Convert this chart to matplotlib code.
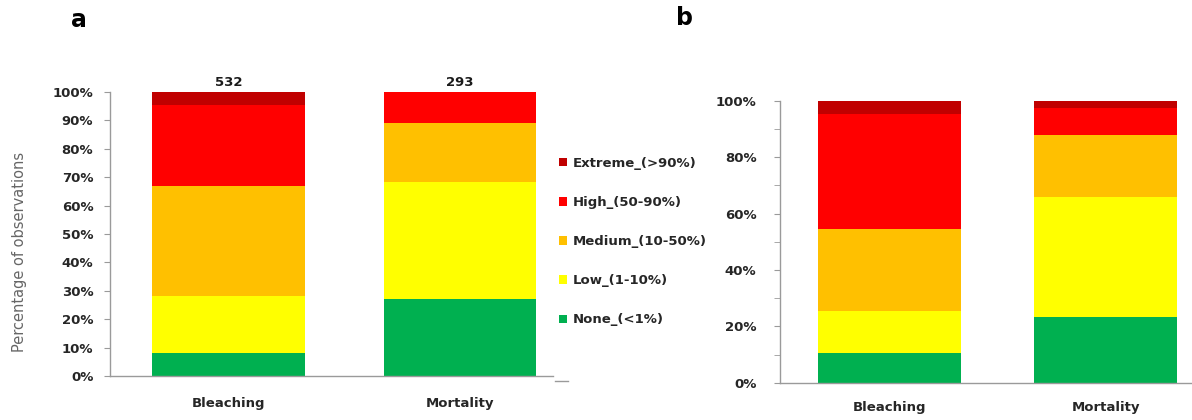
import matplotlib
matplotlib.use("Agg")
import matplotlib.pyplot as plt
from matplotlib.lines import Line2D
import numpy as np

categories = ["Bleaching", "Mortality"]
severity = ["None_(<1%)", "Low_(1-10%)", "Medium_(10-50%)", "High_(50-90%)", "Extreme_(>90%)"]
colors = ["#00B050", "#FFFF00", "#FFC000", "#FF0000", "#C00000"]

# panel a (percent of observations)
a_none = [8.2, 27.0]
a_low = [20.1, 41.4]
a_medium = [38.6, 20.8]
a_high = [28.5, 10.8]
a_extreme = [4.6, 0.0]
a_counts = [532, 293]

# panel b (percent)
b_none = [10.6, 23.2]
b_low = [14.9, 42.5]
b_medium = [29.0, 22.1]
b_high = [40.8, 9.5]
b_extreme = [4.7, 2.7]

plt.rcParams['font.family'] = ['DejaVu Sans']
fig = plt.figure(figsize=(11.92, 4.2), dpi=100)

axA = fig.add_axes([110/1192, 1-376/420, 443/1192, 284/420])
axB = fig.add_axes([780/1192, 1-382.7/420, 412/1192, 282/420])

tick_col = "#262626"
spine_col = "#9a9a9a"

def draw(ax, series, ticks_major, xlim, xpad, ypad):
    x = np.arange(len(categories))
    bottom = np.zeros(len(categories))
    handles = []
    for vals, col, lab in zip(series, colors, severity):
        h = ax.bar(x, vals, width=0.66, bottom=bottom, color=col, label=lab, linewidth=0)
        handles.append(h)
        bottom = bottom + np.array(vals)
    ax.set_ylim(0, 100)
    ax.set_xlim(*xlim)
    ax.set_xticks(x)
    ax.set_xticklabels(categories, fontsize=9.5, fontweight='bold', color=tick_col)
    ax.set_yticks(ticks_major)
    ax.set_yticklabels([f"{int(t)}%" for t in ticks_major], fontsize=9.5, fontweight='bold', color=tick_col)
    ax.set_yticks(np.arange(0, 101, 10), minor=True)
    ax.tick_params(axis='x', length=0, pad=xpad)
    ax.tick_params(axis='y', which='both', length=4, color=spine_col, direction='out', pad=ypad)
    for s in ['top', 'right']:
        ax.spines[s].set_visible(False)
    for s in ['left', 'bottom']:
        ax.spines[s].set_color(spine_col)
        ax.spines[s].set_linewidth(1.0)
    return handles

hA = draw(axA, [a_none, a_low, a_medium, a_high, a_extreme], np.arange(0, 101, 10), (-0.512, 1.402), 15, 8)
for i, c in enumerate(a_counts):
    axA.text(i, 101, str(c), ha='center', va='bottom', fontsize=9.5, fontweight='bold', color='#1a1a1a')

draw(axB, [b_none, b_low, b_medium, b_high, b_extreme], np.arange(0, 101, 20), (-0.507, 1.40), 13, 13)

fig.text(20/1192, 1-252/420, "Percentage of observations", rotation=90, ha='center', va='center',
         fontsize=10.5, color='#666666')

leg = fig.legend(handles=hA[::-1], labels=severity[::-1], loc='upper left',
                 bbox_to_anchor=(547/1192, 1-145/420), frameon=False,
                 handlelength=0.6, handleheight=0.6, handletextpad=0.45,
                 labelspacing=1.98, prop={'size': 9.5, 'weight': 'bold'})
for t in leg.get_texts():
    t.set_color('#262626')

# small stray axis dash to the right of panel a's baseline
fig.add_artist(Line2D([555/1192, 568/1192], [1-381/420, 1-381/420], color=spine_col, lw=1.0))

fig.text(79/1192, 1-20/420, "a", fontsize=17, fontweight='bold', ha='center', va='center')
fig.text(685/1192, 1-18/420, "b", fontsize=17, fontweight='bold', ha='center', va='center')

fig.savefig("out.png", dpi=100)
